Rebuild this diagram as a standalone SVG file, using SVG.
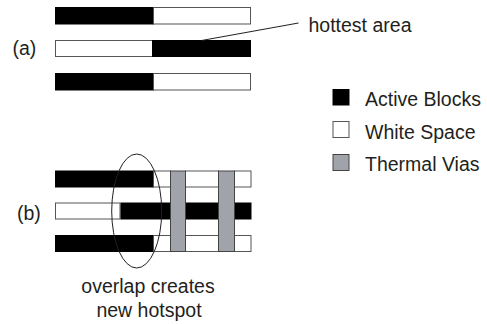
<svg xmlns="http://www.w3.org/2000/svg" width="487" height="324" viewBox="0 0 487 324">
<style>
text{font-family:"Liberation Sans",Arial,sans-serif;font-size:19.5px;fill:#231f20}
.blk{fill:#000;stroke:#000;stroke-width:1}
.wht{fill:#fff;stroke:#555;stroke-width:1}
.via{fill:#a0a4aa;stroke:#444;stroke-width:1}
.ln{fill:none;stroke:#231f20;stroke-width:1}
</style>
<rect width="487" height="324" fill="#fff"/>
<g id="label-a"><text x="12.5" y="55">(a)</text></g>
<g id="a-row1">
<rect class="blk" x="55.5" y="7.5" width="98" height="16.5"/>
<rect class="wht" x="153.5" y="7.5" width="97" height="16.5"/>
</g>
<g id="a-row2">
<rect class="wht" x="55.5" y="40.5" width="97" height="16"/>
<rect class="blk" x="152.5" y="40.5" width="98" height="16"/>
</g>
<g id="a-row3">
<rect class="blk" x="55.5" y="73.5" width="98" height="16.5"/>
<rect class="wht" x="153.5" y="73.5" width="97" height="16.5"/>
</g>
<g id="hottest-area"><text x="308.5" y="32">hottest area</text></g>
<g id="label-b"><text x="17" y="219.5">(b)</text></g>
<g id="b-row1">
<rect class="blk" x="55.5" y="171" width="98" height="16"/>
<rect class="wht" x="153.5" y="171" width="17" height="16"/>
<rect class="wht" x="185.5" y="171" width="33" height="16"/>
<rect class="wht" x="234.5" y="171" width="16.5" height="16"/>
</g>
<g id="b-row2">
<rect class="wht" x="55.5" y="203" width="64.5" height="16"/>
<rect class="blk" x="121" y="203" width="130" height="16"/>
</g>
<g id="b-row3">
<rect class="blk" x="55.5" y="235.5" width="98" height="16"/>
<rect class="wht" x="153.5" y="235.5" width="17" height="16"/>
<rect class="wht" x="185.5" y="235.5" width="33" height="16"/>
<rect class="wht" x="234.5" y="235.5" width="16.5" height="16"/>
</g>
<g id="via1"><rect class="via" x="170.5" y="171" width="15" height="80.5"/></g>
<g id="via2"><rect class="via" x="218.5" y="171" width="16" height="80.5"/></g>
<g id="overlap-ellipse"><ellipse class="ln" cx="136.7" cy="211" rx="25" ry="57"/></g>
<g id="overlap-label">
<text x="148" y="293" text-anchor="middle">overlap creates</text>
<text x="149" y="317" text-anchor="middle">new hotspot</text>
</g>
<g id="legend">
<rect class="blk" x="333" y="89.5" width="16" height="15.5"/>
<text x="365" y="105.5">Active Blocks</text>
<rect class="wht" x="333" y="121.5" width="16" height="16"/>
<text x="365" y="138.5">White Space</text>
<rect class="via" x="333" y="154.5" width="16" height="16"/>
<text x="365" y="171">Thermal Vias</text>
</g>
<g id="connectors">
<line class="ln" x1="201.5" y1="40.5" x2="298.5" y2="23"/>
</g>
</svg>
